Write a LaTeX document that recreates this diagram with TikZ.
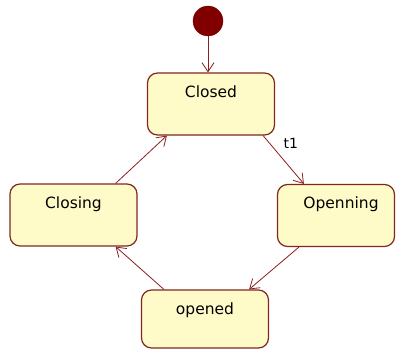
\documentclass[tikz,border=0pt]{standalone}
\usepackage{fontspec}
\setmainfont{DejaVu Sans}
\usetikzlibrary{arrows.meta,positioning}
\definecolor{statefill}{RGB}{255,251,200}
\definecolor{stateline}{RGB}{128,40,30}
\definecolor{initfill}{RGB}{128,0,0}
\definecolor{flowline}{RGB}{140,30,30}
\begin{document}
\begin{tikzpicture}[x=1pt,y=-1pt,
  statebox/.style={draw=stateline, fill=statefill, line width=1.2pt,
    rounded corners=10pt, minimum width=#1, minimum height=62pt, inner sep=0pt},
  statebox/.default=127pt,
  statetext/.style={anchor=north, yshift=-13pt, inner sep=0pt,
    font=\fontsize{15.5}{17}\selectfont},
  initstate/.style={circle, fill=initfill, draw=initfill, minimum size=30pt, inner sep=0pt},
  flow/.style={draw=flowline, line width=0.8pt,
    -{Straight Barb[length=9pt,width=12pt,line width=0.8pt]}},
  guard/.style={font=\fontsize{14}{16}\selectfont, inner sep=0pt}]
  \useasboundingbox (0,0) rectangle (398,350);

  % states
  \node[initstate] (init) at (208,21) {};
  \node[statebox] (closed) at (211,104) {};
  \node[statebox] (closing) at (73.5,215) {};
  \node[statebox=117pt] (openning) at (336,215.5) {};
  \node[statebox, minimum height=58pt] (opened) at (205,319) {};

  % state names
  \node[statetext] at (closed.north) {Closed};
  \node[statetext] at (closing.north) {Closing};
  \node[statetext, xshift=5pt] at (openning.north) {Openning};
  \node[statetext] at (opened.north) {opened};

  % transitions
  \draw[flow] (init) -- (init |- closed.north);
  \draw[flow] ([xshift=-12pt]closed.south east) --
    node[guard, pos=0.2, anchor=west, xshift=12pt, yshift=2pt] {t1}
    ([xshift=27pt]openning.north west);
  \draw[flow] ([xshift=22pt]openning.south west) -- ([xshift=-20pt]opened.north east);
  \draw[flow] ([xshift=23pt]opened.north west) -- ([xshift=-22pt]closing.south east);
  \draw[flow] ([xshift=-22pt]closing.north east) -- ([xshift=20pt]closed.south west);
\end{tikzpicture}
\end{document}
